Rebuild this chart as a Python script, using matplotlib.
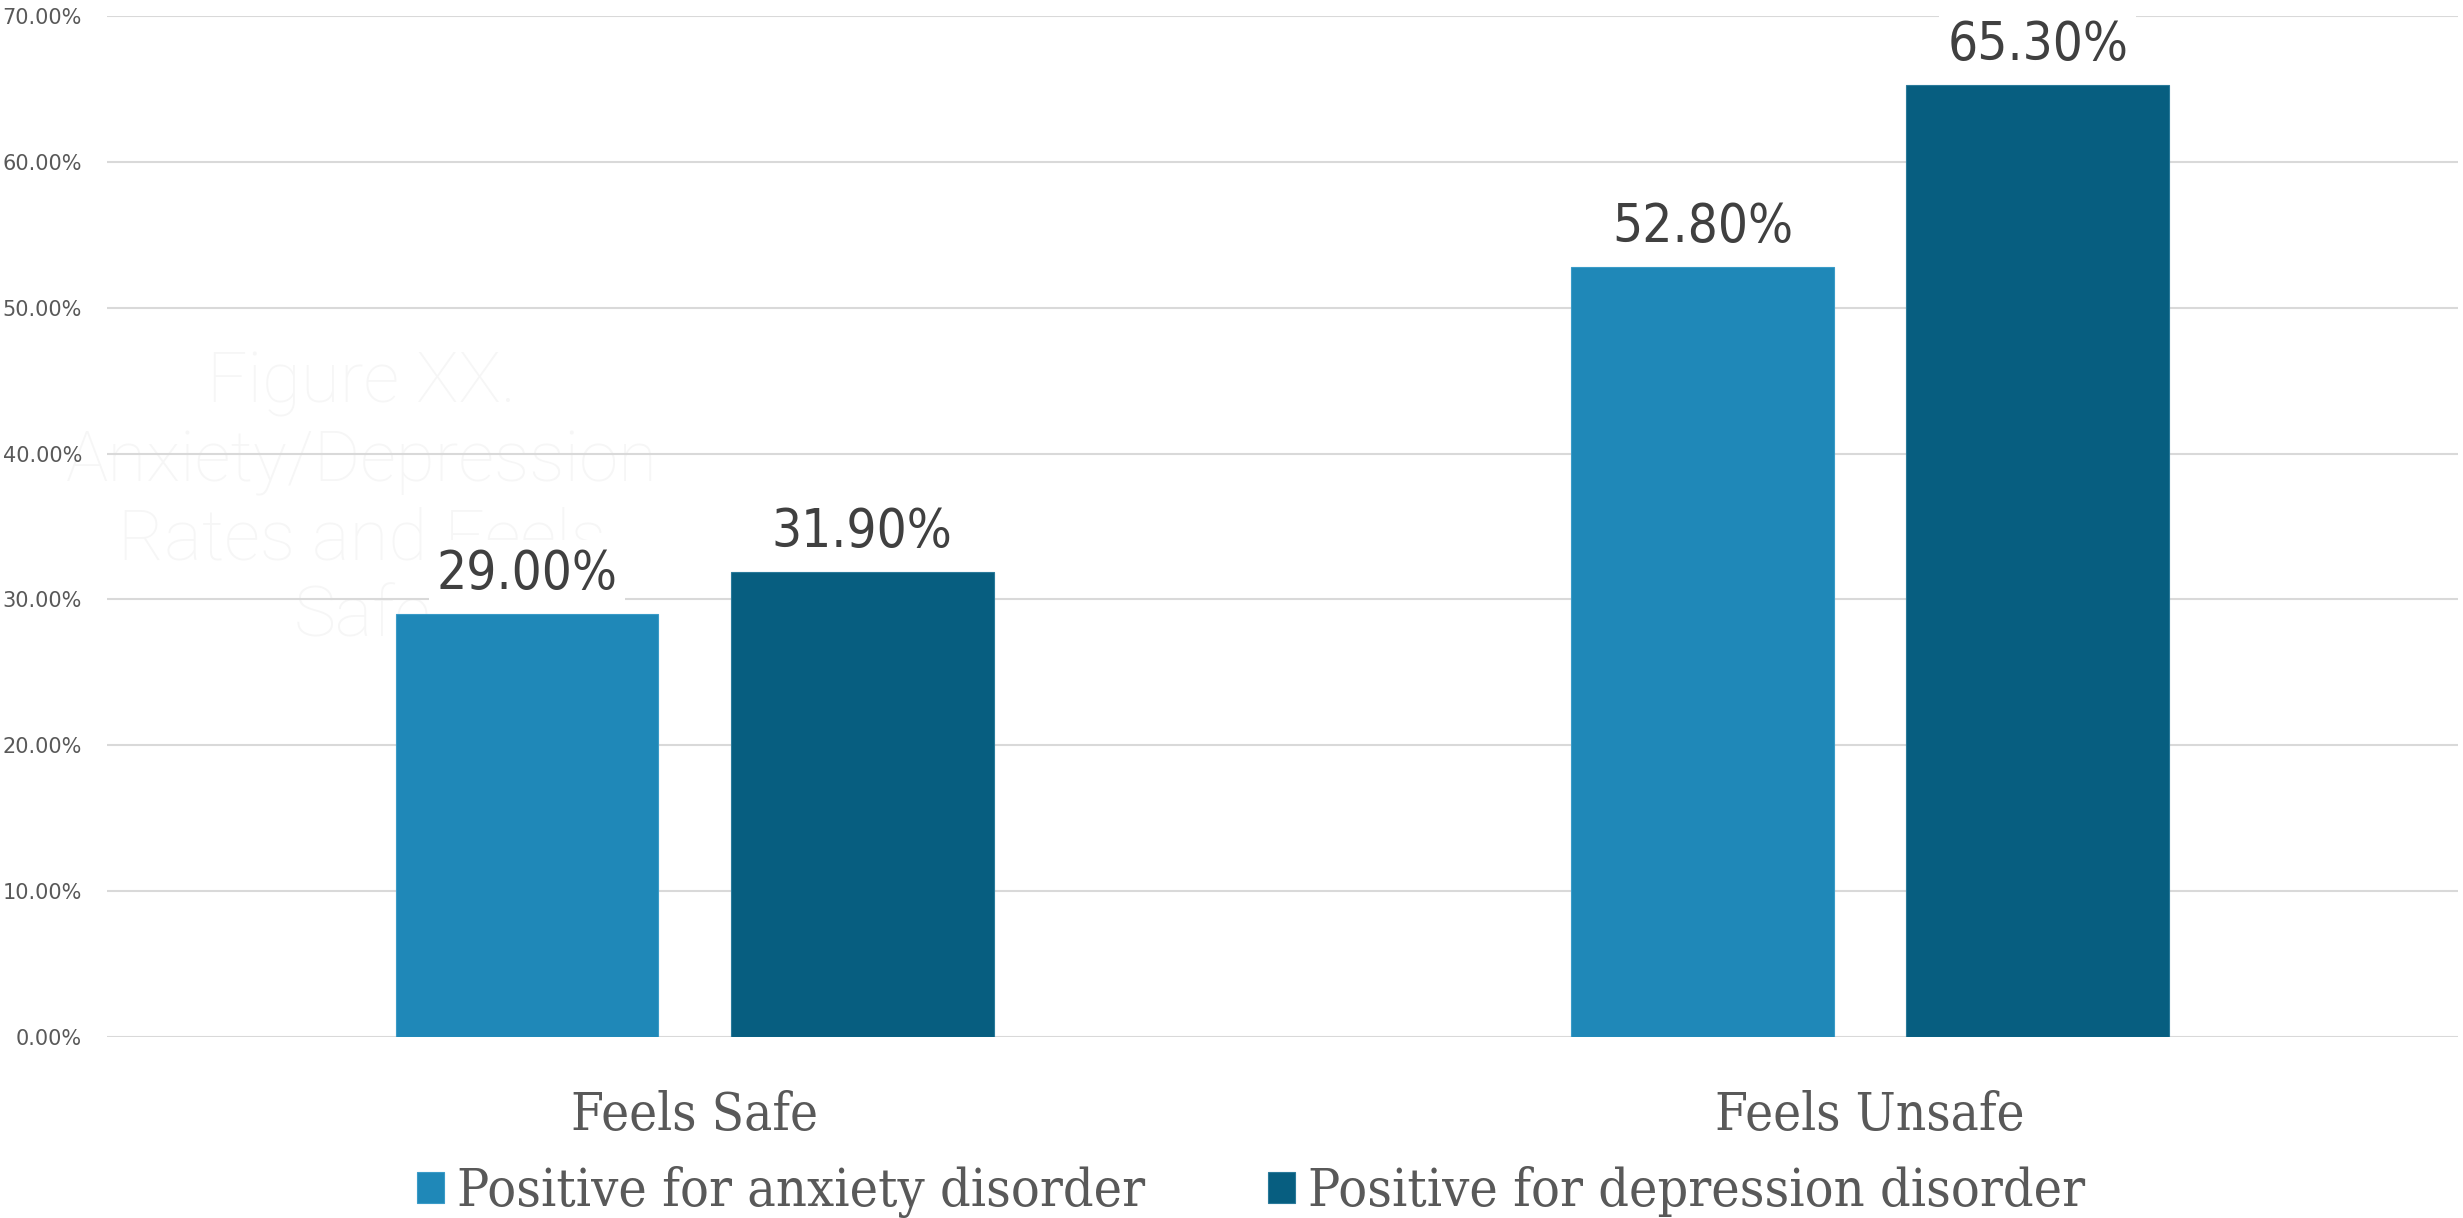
import numpy as np
import matplotlib.pyplot as plt
from matplotlib.ticker import PercentFormatter

# data
categories = ['Feels Safe', 'Feels Unsafe']
anxiety = [29.0, 52.8]
depression = [31.9, 65.3]
series_names = ['Positive for anxiety disorder', 'Positive for depression disorder']
colors = ['#1F88B8', '#075E80']

slab = {'family': 'DejaVu Serif', 'stretch': 'condensed'}
narrow = {'family': ['Liberation Sans Narrow', 'DejaVu Sans'], 'stretch': 'condensed'}

fig = plt.figure(figsize=(24.63, 12.18), dpi=100)
ax = fig.add_axes([0.0434, 0.1486, 0.9545, 0.8383])
ax.set_zorder(1)

x = np.arange(len(categories))
w = 0.2236
off = 0.1426

# faint watermark title, sits behind the bars
ax.text(0.147, 0.589, 'Figure XX.\nAnxiety/Depression\nRates and Feels\nSafe',
        transform=fig.transFigure, ha='center', va='center', fontsize=51,
        color='#f6f6f6', linespacing=1.2, zorder=0.5,
        family=['Roboto', 'DejaVu Sans'], weight='light')

b1 = ax.bar(x - off, anxiety, w, color=colors[0], edgecolor='#3a9bc8', linewidth=0.8,
            label=series_names[0], zorder=3)
b2 = ax.bar(x + off, depression, w, color=colors[1], edgecolor='#2a7a9a', linewidth=0.8,
            label=series_names[1], zorder=3)

for bars, vals in [(b1, anxiety), (b2, depression)]:
    for r, v in zip(bars, vals):
        ax.annotate(f'{v:.2f}%', (r.get_x() + r.get_width() / 2, v),
                    xytext=(0, 10), textcoords='offset points',
                    ha='center', va='bottom', fontsize=38, color='#404040',
                    bbox=dict(boxstyle='square,pad=0.15', fc='white', ec='none'),
                    zorder=4, **narrow)

ax.set_xlim(-0.5, 1.5)
ax.set_ylim(0, 70)
ax.set_yticks(np.arange(0, 71, 10))
ax.yaxis.set_major_formatter(PercentFormatter(decimals=2))
ax.grid(axis='y', color='#d9d9d9', linewidth=1.5, zorder=1)
ax.set_axisbelow(True)
for s in ax.spines.values():
    s.set_visible(False)
ax.tick_params(axis='y', length=0, pad=18, labelsize=15, labelcolor='#595959')
ax.tick_params(axis='x', length=0, pad=38)
ax.set_xticks(x)
ax.set_xticklabels(categories, fontsize=38, color='#595959', **slab)
ax.patch.set_alpha(0)

fig.legend(loc='center', bbox_to_anchor=(0.508, 0.021), ncol=2, frameon=False,
           prop={'family': 'DejaVu Serif', 'stretch': 'condensed', 'size': 38.5},
           labelcolor='#595959', handlelength=0.5, handleheight=0.5,
           handletextpad=0.25, columnspacing=2.3)

fig.savefig('out.png', dpi=100)
